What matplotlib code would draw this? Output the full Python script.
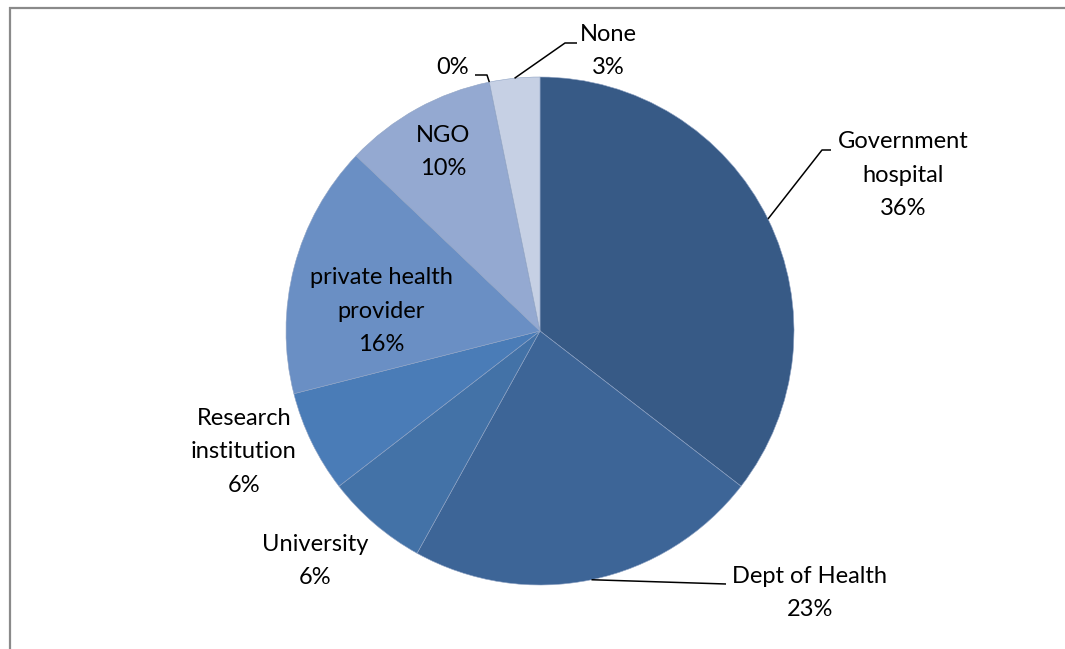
import matplotlib
matplotlib.use("Agg")
import matplotlib.pyplot as plt
import numpy as np

categories = ["Government\nhospital", "Dept of Health", "University", "Research\ninstitution",
              "private health\nprovider", "NGO", "", "None"]
values = [35.5, 22.6, 6.5, 6.5, 16.1, 9.7, 0.0, 3.2]
pct_labels = ["36%", "23%", "6%", "6%", "16%", "10%", "0%", "3%"]
colors = ["#375A86", "#3D6597", "#4372A7", "#4A7CB7", "#6A8FC4", "#94A9D1", "#AEBEDD", "#C6D0E4"]

W, H = 1065, 649
fig = plt.figure(figsize=(W / 100, H / 100), dpi=100)
ax = fig.add_axes([0, 0, 1, 1])

def py(y):
    return H - y

cx, cy, R = 540, py(331), 254
wedges, _ = ax.pie(values, colors=colors, startangle=90, counterclock=False,
                   center=(cx, cy), radius=R,
                   wedgeprops=dict(edgecolor="#8fa3c4", linewidth=0.4))
ax.set_xlim(0, W)
ax.set_ylim(0, H)
ax.set_aspect("equal")
ax.axis("off")

font = dict(family=["Lato", "DejaVu Sans"], fontsize=17, color="black",
            ha="center", va="center", linespacing=1.72)

def edge_point(w, frac=0.5):
    a = np.deg2rad(w.theta1 + (w.theta2 - w.theta1) * frac)
    return cx + R * np.cos(a), cy + R * np.sin(a)

# label positions (pixel coords, centers)
text_pos = [(903, 175), (810, 593), (315, 561), (244, 452),
            (381, 311), (443, 152), (453, 67), (608, 51)]
for i, (tx, tyy) in enumerate(text_pos):
    s = (categories[i] + "\n" + pct_labels[i]) if categories[i] else pct_labels[i]
    ax.text(tx, py(tyy), s, **font)

lk = dict(color="black", lw=1.1, solid_capstyle="butt")
# Government hospital leader
x0, y0 = edge_point(wedges[0])
ax.plot([x0, 822, 831], [y0, py(150), py(150)], **lk)
# Dept of Health leader
x0, y0 = edge_point(wedges[1])
ax.plot([x0, 726], [y0, py(584)], **lk)
# zero slice leader
x0, y0 = edge_point(wedges[6])
ax.plot([x0, 487, 475], [y0, py(75), py(75)], **lk)
# None leader
x0, y0 = edge_point(wedges[7])
ax.plot([x0, 565, 577], [y0, py(43), py(43)], **lk)

# chart frame
fc = "#8a8a8a"
ax.plot([9.5, 9.5], [py(7), 0], color=fc, lw=1.6, solid_capstyle="butt")
ax.plot([9, W], [py(7.5), py(7.5)], color=fc, lw=1.6, solid_capstyle="butt")

fig.savefig("out.png", dpi=100)
